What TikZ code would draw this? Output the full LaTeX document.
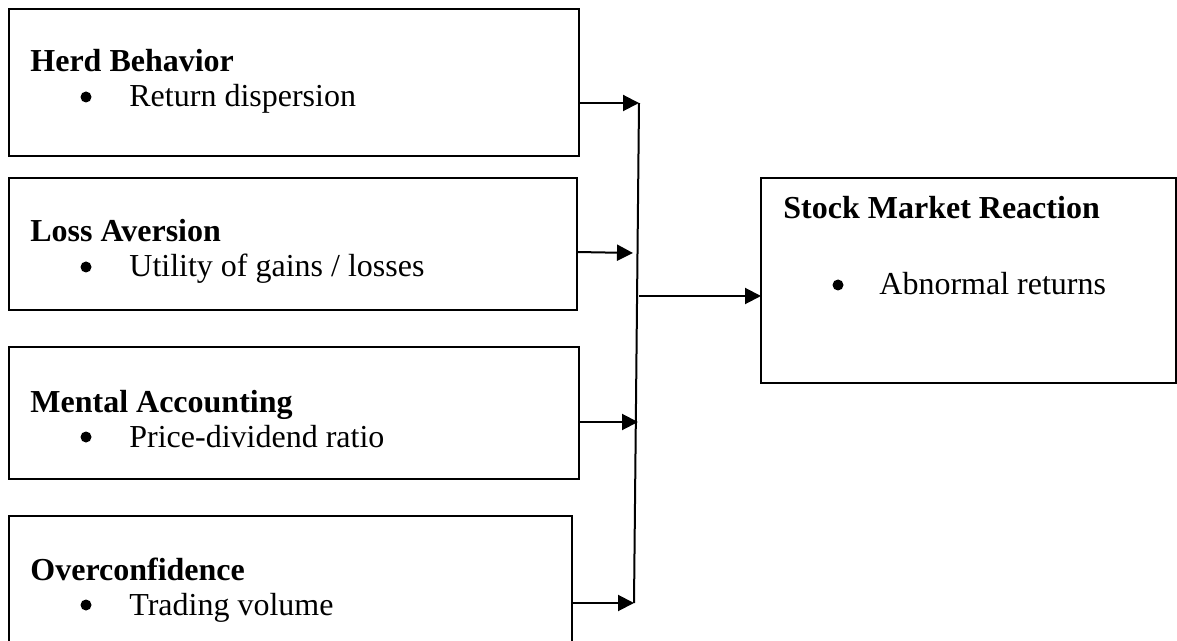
\documentclass[tikz,border=0pt]{standalone}
\usepackage{fontspec}
\setmainfont{Liberation Serif}
\usetikzlibrary{arrows.meta}
\begin{document}
\begin{tikzpicture}[x=0.5pt,y=-0.5pt,
  box/.style={draw,line width=1pt,inner sep=0pt,minimum width=0pt},
  title/.style={anchor=base west,inner sep=0pt,font=\fontsize{16}{19}\selectfont\bfseries},
  item/.style={anchor=base west,inner sep=0pt,font=\fontsize{16}{19}\selectfont},
  dot/.style={circle,fill,inner sep=0pt,minimum size=5.5pt},
  conn/.style={line width=1pt,-{Triangle[length=8pt,width=8pt]}},
  trunk/.style={line width=1pt}]
\useasboundingbox (0,0) rectangle (1177,641);
% boxes
\draw[box] (9,9) rectangle (579,156) node[pos=0.5,inner sep=0pt] (b1) {};
\draw[box] (9,178) rectangle (577,310) node[pos=0.5,inner sep=0pt] (b2) {};
\draw[box] (9,347) rectangle (579,479) node[pos=0.5,inner sep=0pt] (b3) {};
\draw[box] (9,516) rectangle (572,660) node[pos=0.5,inner sep=0pt] (b4) {};
\draw[box] (761,178) rectangle (1176,383) node[pos=0.5,inner sep=0pt] (r) {};
% box edge points
\coordinate (e1) at (579,103);
\coordinate (e2) at (577,252);
\coordinate (e3) at (579,422);
\coordinate (e4) at (572,603);
\coordinate (rin) at (761,296);
% trunk
\coordinate (t1) at (639,103);
\coordinate (t2) at (633,253);
\coordinate (t3) at (638,422);
\coordinate (t4) at (634,603);
\coordinate (tm) at (639,296);
% texts
\node[title] (h1) at (30,72) {Herd Behavior};
\node[dot] (d1) at (86,97) {};
\node[item] (i1) at (129,107) {Return dispersion};
\node[title] (h2) at (30,242) {Loss Aversion};
\node[dot] (d2) at (86,267) {};
\node[item] (i2) at (129,277) {Utility of gains / losses};
\node[title] (h3) at (30,412) {Mental Accounting};
\node[dot] (d3) at (86,437) {};
\node[item] (i3) at (129,447) {Price-dividend ratio};
\node[title] (h4) at (30,580) {Overconfidence};
\node[dot] (d4) at (86,605) {};
\node[item] (i4) at (129,615) {Trading volume};
\node[title] (hr) at (783,219) {Stock Market Reaction};
\node[dot] (dr) at (838,285) {};
\node[item] (ir) at (879,295) {Abnormal returns};
% connectors
\draw[trunk] (t1) -- (t4);
\draw[conn] (e1) -- (t1);
\draw[conn] (e2) -- (t2);
\draw[conn] (e3) -- (t3);
\draw[conn] (e4) -- (t4);
\draw[conn] (tm) -- (rin);
\end{tikzpicture}
\end{document}
